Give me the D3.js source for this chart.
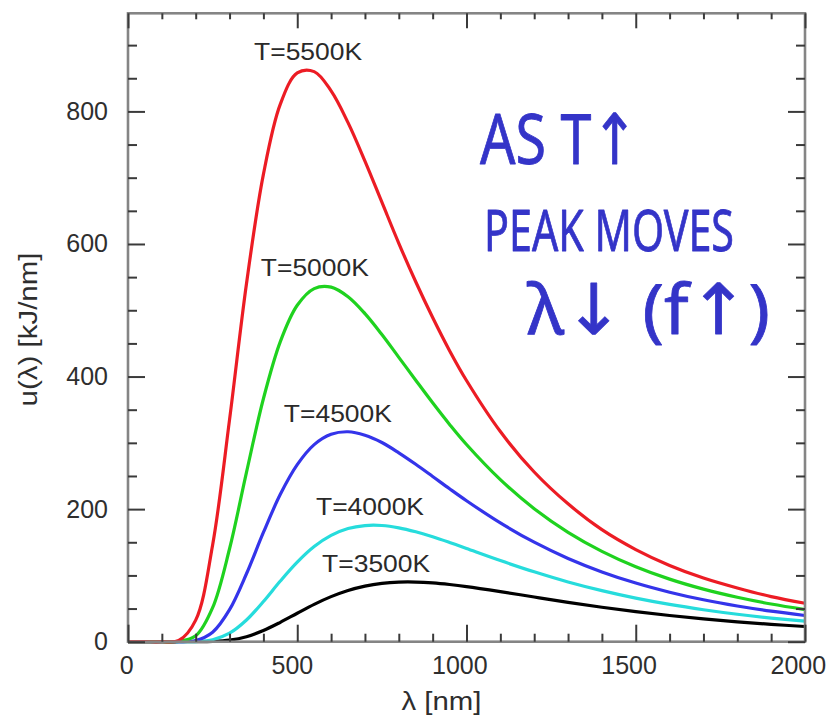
<!DOCTYPE html>
<html>
<head>
<meta charset="utf-8">
<script src="https://cdn.jsdelivr.net/npm/d3@7"></script>
<style>
  html, body { margin: 0; padding: 0; background: #fff; }
  svg { display: block; }
</style>
</head>
<body>
<svg id="chart" width="831" height="718"></svg>
<script>
// ---------- data ----------
const wavelengths = [0,50,100,150,200,250,300,350,400,450,500,550,600,650,700,750,800,850,900,950,1000,
                     1100,1200,1300,1400,1500,1600,1700,1800,1900,2000];
const temps = ["T=5500K","T=5000K","T=4500K","T=4000K","T=3500K"];
const u5500 = [0,0,0,1.8,32.5,146,335,540,705,811,858,860,831,783,725,663,601,543,489,439,394,
               317,256,208,169,139,115,96,81,68,58];
const u5000 = [0,0,0,0.3,8.8,51.3,140.2,255.4,366.5,452.7,507.5,532.7,534.9,520.4,494.9,463.4,429,394.5,360.4,327.8,297.5,
               244.5,200.6,165,136.3,113.1,94.4,79.3,67.0,56.8,48.5];
const u4500 = [0,0,0,0,1.8,14.3,48.3,102.5,164.8,222.3,267.1,297.3,312.9,316.7,311.5,300.5,285,267.7,249.3,230.7,212.7,
               179.2,150.1,125.6,105.3,88.5,74.7,63.2,53.8,46.0,39.5];
const u4000 = [0,0,0,0,0.2,2.9,12.8,32.7,60.6,91.5,120.0,143.5,160.3,170.7,175.2,175.3,171.8,165.8,158.3,149.7,140.6,
               122.4,105.4,90.1,77.0,65.7,56.2,48.2,41.4,35.7,30.9];
const u3500 = [0,0,0,0,0,0.4,2.3,7.5,16.8,29.2,42.9,56.4,68.0,77.3,83.9,88.0,89.9,90.0,88.7,86.3,83.2,
               75.6,67.4,59.4,52.0,45.3,39.5,34.4,30.0,26.2,22.9];
// wavelength under the centre of each curve's label
const labelLambda = [532, 552, 620, 715, 733];
const xMajorTicks = [0,500,1000,1500,2000];
const yMajorTicks = [0,200,400,600,800];
const xTitle = "λ [nm]";
const yTitle = "u(λ)  [kJ/nm]";
const notes = ["AS T↑", "PEAK MOVES", "λ↓ (f↑)"];

// ---------- layout ----------
const svg = d3.select("#chart");
const L = 128, R = 805, T = 13.3, B = 641.7;
const x = d3.scaleLinear().domain([0, 2000]).range([L, R]);
const y = d3.scaleLinear().domain([0, 948]).range([B, T]);
const FONT = "'Liberation Sans', Arial, sans-serif";

const series = [
  {name: temps[0], vals: u5500, color: "#ec1c24", lab: labelLambda[0]},
  {name: temps[1], vals: u5000, color: "#1fd21f", lab: labelLambda[1]},
  {name: temps[2], vals: u4500, color: "#3434ea", lab: labelLambda[2]},
  {name: temps[3], vals: u4000, color: "#26dcdc", lab: labelLambda[3]},
  {name: temps[4], vals: u3500, color: "#000000", lab: labelLambda[4]}
];

// curves (red drawn last, on top)
const line = d3.line()
  .x((d, i) => x(wavelengths[i]))
  .y(d => y(Math.max(0, d)))
  .curve(d3.curveCatmullRom.alpha(0.5));

const paths = svg.append("g").selectAll("path")
  .data(series.slice().reverse())
  .join("path")
  .attr("d", d => line(d.vals))
  .attr("fill", "none")
  .attr("stroke", d => d.color)
  .attr("stroke-width", 3.2)
  .attr("stroke-linejoin", "round");

// frame
svg.append("rect")
  .attr("x", L).attr("y", T)
  .attr("width", R - L).attr("height", B - T)
  .attr("fill", "none").attr("stroke", "#858585").attr("stroke-width", 2.6);

// axes
const tickColor = "#3a3a3a";
function styleAxis(g) {
  g.select(".domain").remove();
  g.selectAll(".tick line").attr("stroke", tickColor).attr("stroke-width", 2);
  g.selectAll(".tick text")
    .attr("fill", "#2e2e2e")
    .attr("font-family", FONT)
    .attr("font-size", 25);
}
const xMinor = d3.range(0, 2001, 100).filter(v => v % 500 !== 0);
const yMinor = d3.range(0, 948, 50).filter(v => v % 200 !== 0);

// bottom
svg.append("g").attr("transform", `translate(0,${B})`)
  .call(d3.axisBottom(x).tickValues(xMajorTicks).tickSize(-17).tickSizeOuter(0).tickPadding(15).tickFormat(d3.format("d")))
  .call(styleAxis)
  .call(g => g.selectAll(".tick text").attr("dx", function() { return -1.8 * this.textContent.length; }));
svg.append("g").attr("transform", `translate(0,${B})`)
  .call(d3.axisBottom(x).tickValues(xMinor).tickSize(-8).tickSizeOuter(0).tickFormat(""))
  .call(styleAxis);
// top
svg.append("g").attr("transform", `translate(0,${T})`)
  .call(d3.axisTop(x).tickValues(xMajorTicks).tickSize(-15).tickSizeOuter(0).tickFormat(""))
  .call(styleAxis);
svg.append("g").attr("transform", `translate(0,${T})`)
  .call(d3.axisTop(x).tickValues(xMinor).tickSize(-6).tickSizeOuter(0).tickFormat(""))
  .call(styleAxis);
// left
svg.append("g").attr("transform", `translate(${L},0)`)
  .call(d3.axisLeft(y).tickValues(yMajorTicks).tickSize(-17).tickSizeOuter(0).tickPadding(20).tickFormat(d3.format("d")))
  .call(styleAxis);
svg.append("g").attr("transform", `translate(${L},0)`)
  .call(d3.axisLeft(y).tickValues(yMinor).tickSize(-9).tickSizeOuter(0).tickFormat(""))
  .call(styleAxis);
// right
svg.append("g").attr("transform", `translate(${R},0)`)
  .call(d3.axisRight(y).tickValues(yMajorTicks).tickSize(-17).tickSizeOuter(0).tickFormat(""))
  .call(styleAxis);
svg.append("g").attr("transform", `translate(${R},0)`)
  .call(d3.axisRight(y).tickValues(yMinor).tickSize(-9).tickSizeOuter(0).tickFormat(""))
  .call(styleAxis);

// axis titles
svg.append("text")
  .attr("x", (L + R) / 2 - 25).attr("y", 710)
  .attr("text-anchor", "middle")
  .attr("font-family", FONT)
  .attr("font-size", 26).attr("fill", "#2e2e2e")
  .attr("textLength", 80).attr("lengthAdjust", "spacingAndGlyphs")
  .text(xTitle);
svg.append("text")
  .attr("transform", `translate(37,${(T + B) / 2 + 2}) rotate(-90)`)
  .attr("text-anchor", "middle")
  .attr("font-family", FONT)
  .attr("font-size", 25).attr("fill", "#2e2e2e")
  .attr("textLength", 154).attr("lengthAdjust", "spacingAndGlyphs")
  .text(yTitle);

// curve labels, just above the top of each drawn curve
const tops = new Map();
paths.each(function(d) { tops.set(d.name, this.getBBox().y); });
svg.append("g").selectAll("text")
  .data(series)
  .join("text")
  .attr("x", d => x(d.lab))
  .attr("y", d => tops.get(d.name) - 10)
  .attr("text-anchor", "middle")
  .attr("font-family", FONT)
  .attr("font-size", 23).attr("fill", "#2a2a2a")
  .attr("textLength", 108).attr("lengthAdjust", "spacingAndGlyphs")
  .text(d => d.name);

// handwritten note
const ink = "#3434c8";
const noteSpec = [
  {t: notes[0], x: 480, y: 164, fs: 70, len: 158},
  {t: notes[1], x: 484, y: 251, fs: 57, len: 250},
  {t: notes[2], x: 527, y: 334, fs: 70, len: 243}
];
svg.append("g").selectAll("text")
  .data(noteSpec)
  .join("text")
  .attr("x", d => d.x).attr("y", d => d.y)
  .attr("font-family", "'Noto Sans', 'DejaVu Sans', sans-serif")
  .attr("font-size", d => d.fs)
  .attr("fill", ink).attr("stroke", ink).attr("stroke-width", 0.8)
  .attr("stroke-linejoin", "round")
  .attr("textLength", d => d.len).attr("lengthAdjust", "spacingAndGlyphs")
  .text(d => d.t);
</script>
</body>
</html>
